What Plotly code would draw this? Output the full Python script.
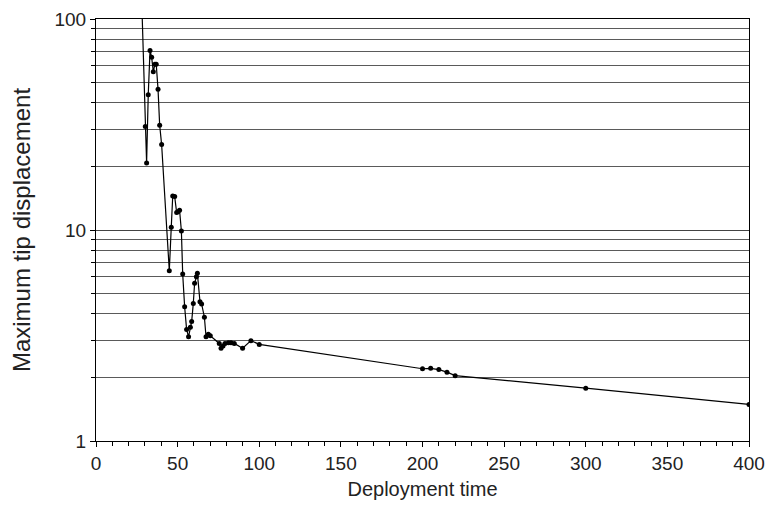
import plotly.graph_objects as go

# Deployment time vs. maximum tip displacement (log scale)
deploy_time = [27, 30.2, 31.0, 32.0, 33.1, 34.1, 35.1, 36.1, 36.9, 38.0, 39.0, 40.2,
               44.9, 46.1, 47.0, 48.2, 49.4, 50.2, 51.2, 52.3, 53.1,
               54.3, 55.5, 56.7, 57.8, 58.6, 59.6, 60.4, 61.5, 62.1, 63.7, 64.7,
               66.4, 67.4, 68.8, 70.0, 75.5, 76.6, 77.8, 79.0, 81.1, 82.7, 84.7,
               89.8, 94.9, 100, 200, 205, 210, 215, 220, 300, 400]
tip_disp = [220, 30.9, 20.8, 43.8, 71.0, 65.8, 56.3, 61.0, 61.0, 46.4, 31.4, 25.4,
            6.41, 10.3, 14.5, 14.4, 12.1, 12.2, 12.4, 9.9, 6.19,
            4.33, 3.38, 3.12, 3.46, 3.68, 4.49, 5.59, 6.0, 6.23, 4.57, 4.46,
            3.86, 3.12, 3.21, 3.15, 2.90, 2.75, 2.82, 2.90, 2.92, 2.92, 2.90,
            2.75, 2.99, 2.87, 2.20, 2.21, 2.18, 2.12, 2.04, 1.78, 1.49]

x_ticks = [0, 50, 100, 150, 200, 250, 300, 350, 400]
y_major = [1, 10, 100]
y_minor = [2, 3, 4, 5, 6, 7, 8, 9, 20, 30, 40, 50, 60, 70, 80, 90]

font_family = "Liberation Sans, Arial, sans-serif"

fig = go.Figure()
fig.add_trace(go.Scatter(
    x=deploy_time, y=tip_disp, mode="lines+markers",
    line=dict(color="black", width=1.2),
    marker=dict(color="black", size=5),
    showlegend=False,
))

fig.update_layout(
    width=767, height=506,
    margin=dict(l=96, r=18, t=19, b=65),
    paper_bgcolor="white", plot_bgcolor="white",
    font=dict(family=font_family, size=19, color="#222"),
)

fig.update_xaxes(
    range=[0, 400], tickvals=x_ticks, ticks="outside", ticklen=5,
    tickcolor="black", showline=True, linecolor="black", linewidth=1,
    mirror=True, showgrid=False, zeroline=False, automargin=False,
    minor=dict(dtick=10, ticks="outside", ticklen=4, tickcolor="black", showgrid=False),
    title=dict(text="Deployment time", standoff=9, font=dict(size=20)),
    tickfont=dict(size=19),
)

fig.update_yaxes(
    type="log", range=[0, 2], tickvals=y_major, ticktext=["1", "10", "100"],
    ticks="outside", ticklen=5, tickcolor="black", automargin=False,
    showline=True, linecolor="black", linewidth=1, mirror=True,
    showgrid=True, gridcolor="#444", gridwidth=1, zeroline=False,
    minor=dict(tickvals=y_minor, ticks="outside", ticklen=4, tickcolor="black",
               showgrid=True, gridcolor="#5a5a5a", gridwidth=1),
    title=dict(text="Maximum tip displacement", standoff=17, font=dict(size=24)),
    tickfont=dict(size=19),
)

fig.write_html("out.html")
